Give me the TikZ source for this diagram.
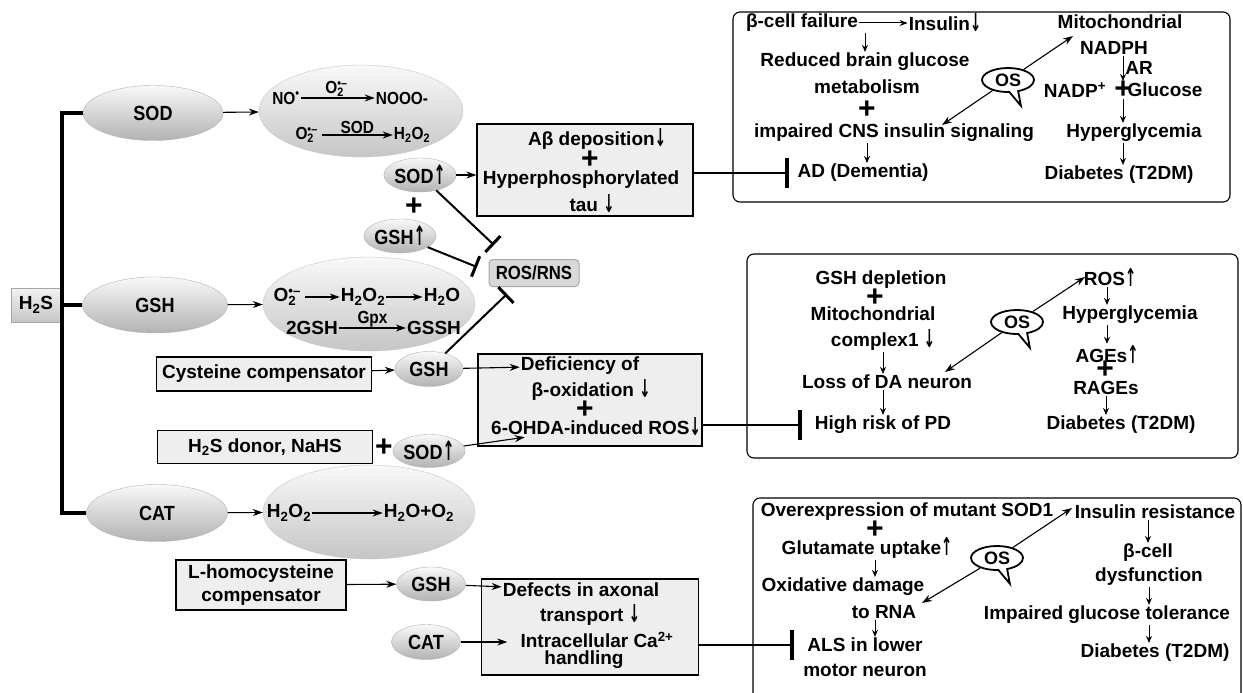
\documentclass[tikz,border=0pt]{standalone}
\usepackage{fontspec}
\usepackage{graphicx}
\setmainfont{Liberation Sans}
\newfontfamily\condf{Liberation Sans}[FakeStretch=0.88]
\newfontfamily\arrf{DejaVu Sans}
\usetikzlibrary{shapes.geometric,shapes.callouts,arrows.meta}

\newcommand{\superox}{O\rlap{\textsuperscript{•–}}\textsubscript{2}\hphantom{\textsuperscript{–}}}
\newcommand{\dar}{\raisebox{-1pt}{\scalebox{0.7}[1.3]{\arrf\bfseries ↓}}}
\newcommand{\uar}{\raisebox{-1pt}{\scalebox{0.7}[1.3]{\arrf\bfseries ↑}}}

\begin{document}
\begin{tikzpicture}[x=1pt,y=-1pt,
  every node/.style={font=\bfseries\fontsize{19}{23}\selectfont, inner sep=1pt},
  enz/.style={ellipse, draw=gray!60, top color=gray!5, bottom color=gray!60, inner sep=0pt,
    font=\condf\bfseries\fontsize{20.5}{22}\selectfont},
  react/.style={ellipse, draw=gray!45, top color=gray!5, bottom color=gray!45,
    minimum width=212pt, minimum height=94pt},
  eqtxt/.style={font=\condf\bfseries\fontsize{17.5}{18}\selectfont},
  hbox/.style={draw, line width=1.2pt, fill=gray!13},
  panel/.style={draw, line width=1.1pt, rounded corners=7pt},
  plustxt/.style={font=\bfseries\fontsize{30}{30}\selectfont, inner sep=0pt},
  arr/.style={-{Stealth[length=10pt,width=7pt]}, line width=1.1pt},
  arrs/.style={-{Stealth[length=8pt,width=6pt]}, line width=1pt},
  dn/.style={-{Stealth[length=7pt,width=6pt]}, line width=0.9pt},
  inh/.style={-{Bar[width=30pt,line width=4pt]}, line width=2.3pt},
  inhs/.style={-{Bar[width=22pt,line width=3pt]}, line width=2pt},
  osbub/.style={ellipse callout, draw, line width=1.8pt, fill=white,
    callout relative pointer={(7,14)}, callout pointer arc=20, minimum width=52pt, minimum height=24pt,
    inner sep=0pt, font=\bfseries\fontsize{18}{18}\selectfont}
]
\useasboundingbox (0,0) rectangle (1243,693);

\node[draw=gray!70, top color=gray!10, bottom color=gray!45, minimum width=49pt, minimum height=34pt, inner sep=0pt] (h2s) at (36,305) {H\textsubscript{2}S};
\node[enz, minimum width=140pt, minimum height=55pt] (sod) at (153,113) {SOD};
\node[enz, minimum width=145pt, minimum height=56pt] (gsh) at (155,305) {GSH};
\node[enz, minimum width=141pt, minimum height=57pt] (cat) at (157,513) {CAT};
\coordinate (trunktop) at (62,113);
\coordinate (trunkbot) at (62,513);
\draw[line width=4pt] (sod.west) -- (trunktop) -- (trunkbot) -- (cat.west);
\draw[line width=4pt] (h2s.east) -- (gsh.west);

\node[react, minimum width=204pt, minimum height=92pt] (r1) at (361,111) {};
\node[react] (r2) at (369,304) {};
\node[react] (r3) at (369,512) {};
\draw[arr] (sod) -- (r1);
\draw[arr] (gsh) -- (r2);
\draw[arr] (cat) -- (r3);

\node[eqtxt] (no) at (286,98) {NO\textsuperscript{•}};
\node[eqtxt] (nooo) at (402,98) {NOOO-};
\draw[arr] (no) -- node[eqtxt, above=0pt] {\superox} (nooo);
\node[eqtxt] (sox) at (308,135) {\superox};
\node[eqtxt] (h2o2a) at (412,135) {H\textsubscript{2}O\textsubscript{2}};
\draw[arr] (sox) -- node[eqtxt, above=0pt] {SOD} (h2o2a);

\node (soxb) at (289,297) {\superox};
\node (h2o2b) at (363,297) {H\textsubscript{2}O\textsubscript{2}};
\node (h2o) at (442,297) {H\textsubscript{2}O};
\draw[arr] (soxb) -- (h2o2b);
\draw[arr] (h2o2b) -- (h2o);
\node (gsh2) at (312,328) {2GSH};
\node (gssh) at (434,328) {GSSH};
\draw[arr] (gsh2) -- node[eqtxt, above=-1pt] {Gpx} (gssh);

\node (h2o2c) at (289,513) {H\textsubscript{2}O\textsubscript{2}};
\node (h2oo2) at (419,513) {H\textsubscript{2}O+O\textsubscript{2}};
\draw[arr] (h2o2c) -- (h2oo2);

\node[enz, minimum width=69pt, minimum height=34pt] (sodup) at (420,175) {SOD\uar};
\node[plustxt] (plusup) at (414,207) {+};
\node[enz, minimum width=69pt, minimum height=34pt] (gshup) at (400,236) {GSH\uar};
\node[draw=gray!70, line width=1pt, fill=gray!30, rounded corners=4pt, minimum width=90pt, minimum height=27pt, inner sep=0pt, font=\condf\bfseries\fontsize{19}{21}\selectfont] (ros) at (534,273) {ROS/RNS};
\coordinate (rosa) at (494,245);
\coordinate (rosb) at (477,267);
\coordinate (rosc) at (507,294);
\draw[inhs] (sodup) -- (rosa);
\draw[inhs] (gshup) -- (rosb);

\node[hbox, minimum width=216pt, minimum height=92pt] (box1) at (585,170) {};
\node (abdep) at (597,139) {Aβ deposition\dar};
\node[plustxt] (plus1) at (590,160) {+};
\node (hyper) at (581,180) {Hyperphosphorylated};
\node (tau) at (592,204) {tau \dar};
\draw[arr] (sodup) -- (sodup -| box1.west);

\node[enz, minimum width=68pt, minimum height=35pt] (gshm) at (429,369) {GSH};
\node[hbox, minimum width=215pt, minimum height=34pt] (cyst) at (264,374) {Cysteine compensator};
\draw[arr] (cyst) -- (gshm);
\draw[inhs] (gshm) -- (rosc);
\node[hbox, minimum width=215pt, minimum height=33pt] (donor) at (265,447) {H\textsubscript{2}S donor, NaHS};
\node[plustxt] (plusdon) at (384,448) {+};
\node[enz, minimum width=68pt, minimum height=33pt] (sodm) at (429,451) {SOD\uar};

\node[hbox, minimum width=224pt, minimum height=92pt] (box2) at (590,400) {};
\node (defic) at (580,366) {Deficiency of};
\node (boxid) at (591,390) {β-oxidation \dar};
\node[plustxt] (plus2) at (585,410) {+};
\node (ohda) at (596,427) {6-OHDA-induced ROS\dar};
\draw[arr] (gshm) -- (defic);
\draw[arr] (sodm) -- (ohda);

\node[hbox, minimum width=170pt, minimum height=50pt, align=center] (lhomo) at (261,585) {L-homocysteine\\compensator};
\node[enz, minimum width=69pt, minimum height=34pt] (gshb) at (431,584) {GSH};
\node[enz, minimum width=69pt, minimum height=35pt] (catb) at (426,642) {CAT};
\node[hbox, minimum width=217pt, minimum height=96pt] (box3) at (590,627) {};
\node (defects) at (581,590) {Defects in axonal};
\node (transp) at (590,615) {transport \dar};
\node (intra) at (597,640) {Intracellular Ca\textsuperscript{2+}};
\node (handl) at (584,660) {handling};
\draw[arr] (lhomo) -- (gshb);
\draw[arr] (gshb) -- (defects);
\draw[arr, shorten >=12pt] (catb) -- (catb -| intra.west);

% AD panel
\draw[panel] (733,12) rectangle (1230,202);
\node (bfail) at (802,23) {β-cell failure};
\node (insul) at (945,23) {Insulin\dar};
\draw[arrs] (bfail) -- (insul);
\node (reduced) at (865,62) {Reduced brain glucose};
\node (metab) at (867,87) {metabolism};
\node[plustxt] (plusa) at (867,110) {+};
\node (impaired) at (894,133) {impaired CNS insulin signaling};
\node (ad) at (863,173) {AD (Dementia)};
\draw[dn] (bfail.south -| reduced) -- (reduced.north);
\draw[dn] (impaired.south -| metab) -- (ad.north -| metab);
\draw[inh, shorten >=7pt] (box1.east |- ad) -- (ad.west);
\node[osbub] (os1) at (1008,80) {OS};
\coordinate (os1a) at (942,125);
\coordinate (os1b) at (1073,36);
\draw[arr] (os1) -- (os1a);
\draw[arr] (os1) -- (os1b);
\node (mito1) at (1120,22) {Mitochondrial};
\node (nadph) at (1114,48) {NADPH};
\node (nadp) at (1075,90) {NADP\textsuperscript{+}};
\node[plustxt] (plusb) at (1123,90) {+};
\node (gluc) at (1165,90) {Glucose};
\draw[dn] (nadph.south -| plusb) -- node[right=1pt] {AR} (plusb.north);
\node (hyp1) at (1134,133) {Hyperglycemia};
\node (diab1) at (1119,175) {Diabetes (T2DM)};
\draw[dn] (plusb.south) -- (hyp1.north -| plusb);
\draw[dn] (hyp1.south -| plusb) -- (diab1.north -| plusb);

% PD panel
\draw[panel] (747,254) rectangle (1238,458);
\node (gdep) at (881,280) {GSH depletion};
\node[plustxt] (plusc) at (875,298) {+};
\node (mito2) at (873,314) {Mitochondrial};
\node (cplx) at (883,340) {complex1 \dar};
\node (loss) at (887,382) {Loss of DA neuron};
\node (pd) at (883,425) {High risk of PD};
\draw[dn] (cplx.south) -- (loss.north -| cplx);
\draw[dn] (loss.south -| cplx) -- (pd.north -| cplx);
\draw[inh, shorten >=12pt] (box2.east |- pd) -- (pd.west);
\node[osbub] (os2) at (1017,322) {OS};
\coordinate (os2a) at (945,372);
\coordinate (os2b) at (1085,277);
\draw[arr] (os2) -- (os2a);
\draw[arr] (os2) -- (os2b);
\node (rosup) at (1110,277) {ROS\uar};
\node (hyp2) at (1130,315) {Hyperglycemia};
\node (ages) at (1107,354) {AGEs\uar};
\node[plustxt] (plusd) at (1105,370) {+};
\node (rages) at (1106,388) {RAGEs};
\node (diab2) at (1121,425) {Diabetes (T2DM)};
\draw[dn] (rosup.south -| ages) -- (hyp2.north -| ages);
\draw[dn] (hyp2.south -| ages) -- (ages.north);
\draw[dn] (rages.south) -- (diab2.north -| rages);

% ALS panel
\draw[panel] (753,705) -- (753,498) -- (1241,498) -- (1241,705);
\node (overx) at (907,512) {Overexpression of mutant SOD1};
\node[plustxt] (pluse) at (875,530) {+};
\node (glut) at (867,548) {Glutamate uptake\uar};
\node (oxid) at (843,587) {Oxidative damage};
\node (torna) at (884,612) {to RNA};
\node (als) at (865,645) {ALS in lower};
\node (motor) at (865,670) {motor neuron};
\draw[dn] (glut.south -| pluse) -- (oxid.north -| pluse);
\draw[dn] (torna.south -| pluse) -- (als.north -| pluse);
\draw[inh, shorten >=12pt] (box3.east |- als) -- (als.west);
\node[osbub] (os3) at (997,558) {OS};
\coordinate (os3a) at (922,603);
\coordinate (os3b) at (1072,508);
\draw[arr] (os3) -- (os3a);
\draw[arr] (os3) -- (os3b);
\node (insres) at (1155,512) {Insulin resistance};
\node (bcell) at (1148,553) {β-cell};
\node (dysf) at (1149,577) {dysfunction};
\node (igt) at (1107,615) {Impaired glucose tolerance};
\node (diab3) at (1155,653) {Diabetes (T2DM)};
\draw[dn] (insres.south -| bcell) -- (bcell.north);
\draw[dn] (dysf.south) -- (igt.north -| dysf);
\draw[dn] (igt.south -| dysf) -- (diab3.north -| dysf);

\end{tikzpicture}
\end{document}
